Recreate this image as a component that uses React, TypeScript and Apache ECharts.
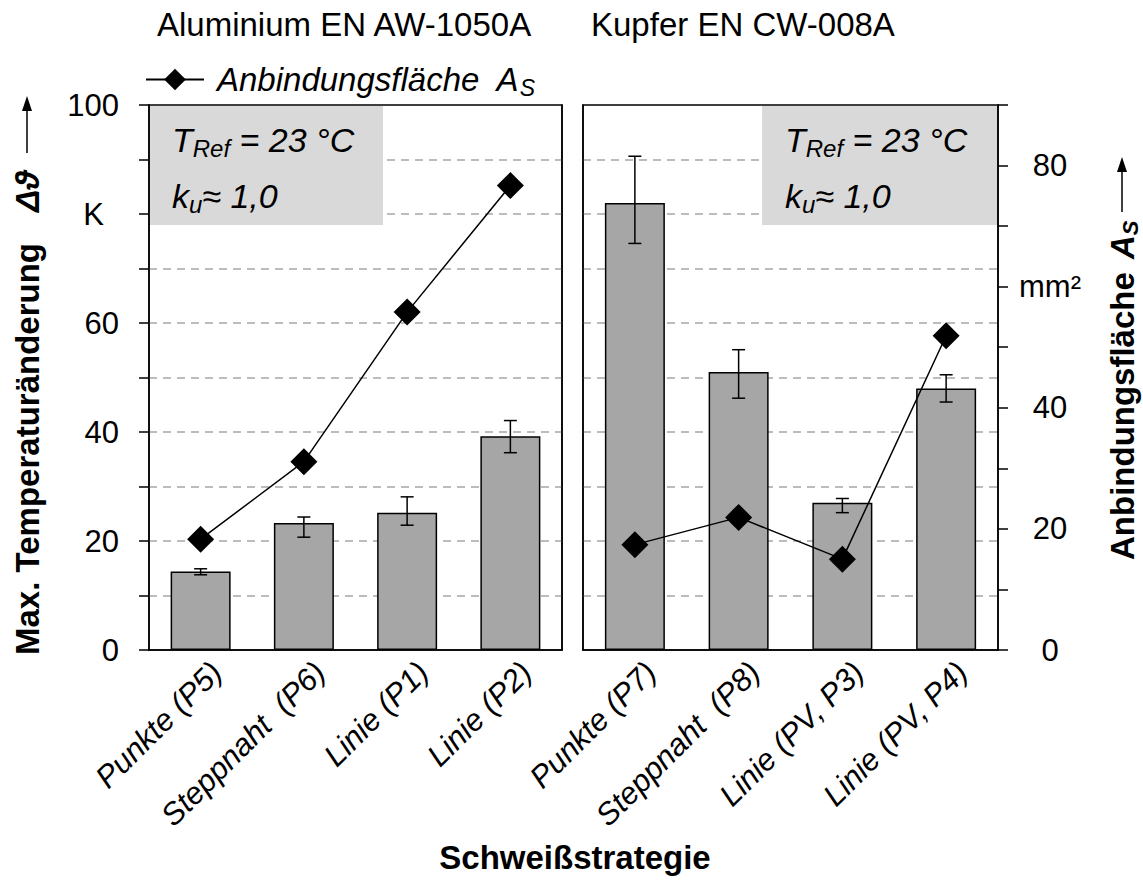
import React, { useEffect, useRef } from 'react';
import * as echarts from 'echarts';

// ---------- data ----------
const titleAl = 'Aluminium EN AW-1050A';
const titleCu = 'Kupfer EN CW-008A';
const catsAl = ['Punkte (P5)', 'Steppnaht  (P6)', 'Linie (P1)', 'Linie (P2)'];
const catsCu = ['Punkte (P7)', 'Steppnaht  (P8)', 'Linie (PV, P3)', 'Linie (PV, P4)'];
// max. temperature change (K), left axis
const tempAl = [14.4, 23.3, 25.2, 39.2];
const tempAlLow = [13.8, 20.7, 22.9, 36.2];
const tempAlHigh = [14.9, 24.4, 28.1, 42.1];
const tempCu = [82.0, 51.0, 27.0, 48.0];
const tempCuLow = [74.6, 46.2, 25.2, 45.5];
const tempCuHigh = [90.6, 55.1, 27.8, 50.5];
// bonding area (mm²), right axis
const areaAl = [18.3, 31.1, 55.8, 76.7];
const areaCu = [17.4, 21.9, 15.0, 51.9];
const leftAxisMax = 100;
const rightAxisMax = 90;

const FONT = '"Liberation Sans", Arial, sans-serif';

function errorSeries(xIdx: number, yIdx: number, low: number[], high: number[]) {
  return {
    type: 'custom',
    xAxisIndex: xIdx,
    yAxisIndex: yIdx,
    z: 4,
    silent: true,
    encode: { x: 0, y: [1, 2] },
    data: low.map((l, i) => [i, l, high[i]]),
    renderItem: (params: any, api: any) => {
      const i = api.value(0);
      const lo = api.coord([i, api.value(1)]);
      const hi = api.coord([i, api.value(2)]);
      const w = 6.5;
      const st = { stroke: '#000', lineWidth: 1.5 };
      return {
        type: 'group',
        children: [
          { type: 'line', shape: { x1: lo[0], y1: lo[1], x2: hi[0], y2: hi[1] }, style: st },
          { type: 'line', shape: { x1: lo[0] - w, y1: lo[1], x2: lo[0] + w, y2: lo[1] }, style: st },
          { type: 'line', shape: { x1: hi[0] - w, y1: hi[1], x2: hi[0] + w, y2: hi[1] }, style: st },
        ],
      };
    },
  };
}

export default function App() {
  const ref = useRef<HTMLDivElement>(null);
  useEffect(() => {
    if (!ref.current) return;
    const chart = echarts.init(ref.current, undefined, { renderer: 'svg' });
    const gridTop = 105;
    const gridH = 545;
    const g0 = { left: 149, width: 413 };
    const g1 = { left: 583, width: 415 };
    const labelShift = 16;
    const frame = { show: true, borderColor: '#000', borderWidth: 1.5, backgroundColor: 'transparent' };
    const splitDashed = {
      show: true,
      showMinLine: false,
      showMaxLine: false,
      lineStyle: { color: '#a6a6a6', type: [8, 6], width: 1.5 },
    };
    const xLabel = {
      rotate: 45,
      margin: 17,
      interval: 0,
      fontFamily: FONT,
      fontSize: 31,
      fontStyle: 'italic',
      color: '#000',
    };
    const rich = {
      i: { fontFamily: FONT, fontSize: 34, fontStyle: 'italic', color: '#000' },
      sub: { fontFamily: FONT, fontSize: 24, fontStyle: 'italic', color: '#000', padding: [16, 0, 0, 0] },
    };
    const boldStyle = { fontFamily: FONT, fontSize: 33, fontWeight: 'bold', fill: '#000', verticalAlign: 'middle', align: 'left' };
    const option: any = {
      animation: false,
      grid: [
        { ...g0, top: gridTop, height: gridH, ...frame },
        { ...g1, top: gridTop, height: gridH, ...frame },
        { left: g0.left + labelShift, width: g0.width, top: gridTop, height: gridH },
        { left: g1.left + labelShift, width: g1.width, top: gridTop, height: gridH },
      ],
      legend: {
        left: 140,
        top: 58,
        itemWidth: 58,
        itemHeight: 27,
        itemGap: 4,
        data: ['Anbindungsfläche'],
        formatter: () => '{t|Anbindungsfläche  A}{s|S}',
        textStyle: {
          padding: [0, 0, 0, 8],
          rich: {
            t: { fontFamily: FONT, fontSize: 33, fontStyle: 'italic', color: '#000' },
            s: { fontFamily: FONT, fontSize: 23, fontStyle: 'italic', color: '#000', padding: [16, 0, 0, 0] },
          },
        },
      },
      xAxis: [
        { type: 'category', gridIndex: 0, data: catsAl, axisLine: { lineStyle: { color: '#000', width: 1.5 } }, axisTick: { show: false }, axisLabel: { show: false } },
        { type: 'category', gridIndex: 1, data: catsCu, axisLine: { lineStyle: { color: '#000', width: 1.5 } }, axisTick: { show: false }, axisLabel: { show: false } },
        { type: 'category', gridIndex: 2, data: catsAl, axisLine: { show: false }, axisTick: { show: false }, axisLabel: xLabel },
        { type: 'category', gridIndex: 3, data: catsCu, axisLine: { show: false }, axisTick: { show: false }, axisLabel: xLabel },
      ],
      yAxis: [
        {
          type: 'value', gridIndex: 0, min: 0, max: leftAxisMax, interval: 10, position: 'left',
          axisLine: { show: true, lineStyle: { color: '#000', width: 1.5 } },
          axisTick: { show: true, inside: false, length: 10, lineStyle: { color: '#000', width: 1.5 } },
          axisLabel: {
            margin: 30, fontFamily: FONT, fontSize: 31, color: '#000',
            formatter: (v: number) => (v === 80 ? '{k|K}' : v % 20 === 0 ? String(v) : ''),
            rich: { k: { fontFamily: FONT, fontSize: 31, color: '#000', padding: [0, 15, 0, 0] } },
          },
          splitLine: splitDashed,
        },
        {
          type: 'value', gridIndex: 0, min: 0, max: rightAxisMax, interval: 10, position: 'right',
          axisLine: { show: true, lineStyle: { color: '#000', width: 1.5 } },
          axisTick: { show: false }, axisLabel: { show: false }, splitLine: { show: false },
        },
        {
          type: 'value', gridIndex: 1, min: 0, max: leftAxisMax, interval: 10, position: 'left',
          axisLine: { show: true, lineStyle: { color: '#000', width: 1.5 } },
          axisTick: { show: false }, axisLabel: { show: false }, splitLine: splitDashed,
        },
        {
          type: 'value', gridIndex: 1, min: 0, max: rightAxisMax, interval: 10, position: 'right',
          axisLine: { show: true, lineStyle: { color: '#000', width: 1.5 } },
          axisTick: { show: true, inside: false, length: 10, lineStyle: { color: '#000', width: 1.5 } },
          axisLabel: {
            margin: 52, align: 'center', fontFamily: FONT, fontSize: 31, color: '#000',
            formatter: (v: number) => (v === 60 ? 'mm²' : v % 20 === 0 ? String(v) : ''),
          },
          splitLine: { show: false },
        },
        { type: 'value', gridIndex: 2, show: false, min: 0, max: leftAxisMax },
        { type: 'value', gridIndex: 3, show: false, min: 0, max: leftAxisMax },
      ],
      series: [
        {
          type: 'bar', name: 'Temp Al', xAxisIndex: 0, yAxisIndex: 0, data: tempAl, barWidth: 60,
          itemStyle: { color: '#a6a6a6', borderColor: '#000', borderWidth: 1.5 }, z: 3,
        },
        {
          type: 'bar', name: 'Temp Cu', xAxisIndex: 1, yAxisIndex: 2, data: tempCu, barWidth: 60,
          itemStyle: { color: '#a6a6a6', borderColor: '#000', borderWidth: 1.5 }, z: 3,
        },
        errorSeries(0, 0, tempAlLow, tempAlHigh),
        errorSeries(1, 2, tempCuLow, tempCuHigh),
        {
          type: 'line', name: 'Anbindungsfläche', xAxisIndex: 0, yAxisIndex: 1, data: areaAl,
          symbol: 'diamond', symbolSize: 27, z: 5,
          lineStyle: { color: '#000', width: 1.5 }, itemStyle: { color: '#000' },
        },
        {
          type: 'line', name: 'Anbindungsfläche', xAxisIndex: 1, yAxisIndex: 3, data: areaCu,
          symbol: 'diamond', symbolSize: 27, z: 5,
          lineStyle: { color: '#000', width: 1.5 }, itemStyle: { color: '#000' },
        },
      ],
      graphic: [
        { type: 'rect', z: 1, shape: { x: 150, y: 106, width: 233, height: 119 }, style: { fill: '#d9d9d9' } },
        { type: 'rect', z: 1, shape: { x: 762, y: 106, width: 235, height: 119 }, style: { fill: '#d9d9d9' } },
        { type: 'text', z: 6, x: 172, y: 140, style: { text: '{i|T}{sub|Ref}{i| = 23 °C}', rich, verticalAlign: 'middle' } },
        { type: 'text', z: 6, x: 172, y: 196, style: { text: '{i|k}{sub|u}{i|≈ 1,0}', rich, verticalAlign: 'middle' } },
        { type: 'text', z: 6, x: 785, y: 140, style: { text: '{i|T}{sub|Ref}{i| = 23 °C}', rich, verticalAlign: 'middle' } },
        { type: 'text', z: 6, x: 785, y: 196, style: { text: '{i|k}{sub|u}{i|≈ 1,0}', rich, verticalAlign: 'middle' } },
        { type: 'text', x: 157, y: 24, style: { text: titleAl, fontFamily: FONT, fontSize: 33, fill: '#000', verticalAlign: 'middle' } },
        { type: 'text', x: 591, y: 24, style: { text: titleCu, fontFamily: FONT, fontSize: 33, fill: '#000', verticalAlign: 'middle' } },
        {
          type: 'text', x: 575, y: 857,
          style: { text: 'Schweißstrategie', fontFamily: FONT, fontSize: 33, fontWeight: 'bold', fill: '#000', align: 'center', verticalAlign: 'middle' },
        },
        // left axis name
        {
          type: 'text', x: 27, y: 655, rotation: Math.PI / 2,
          style: { text: 'Max. Temperaturänderung', ...boldStyle },
        },
        {
          type: 'text', x: 27, y: 212, rotation: Math.PI / 2,
          style: { text: 'Δϑ', ...boldStyle, fontStyle: 'italic' },
        },
        { type: 'line', shape: { x1: 27, y1: 153, x2: 27, y2: 108 }, style: { stroke: '#000', lineWidth: 1.5 } },
        { type: 'polygon', shape: { points: [[27, 96], [22, 111], [32, 111]] }, style: { fill: '#000' } },
        // right axis name
        {
          type: 'text', x: 1122, y: 560, rotation: Math.PI / 2,
          style: { text: 'Anbindungsfläche', ...boldStyle },
        },
        {
          type: 'text', x: 1122, y: 259, rotation: Math.PI / 2,
          style: {
            text: '{bi|A}{bs|S}', verticalAlign: 'middle', align: 'left',
            rich: {
              bi: { fontFamily: FONT, fontSize: 33, fontWeight: 'bold', fontStyle: 'italic', fill: '#000' },
              bs: { fontFamily: FONT, fontSize: 22, fontWeight: 'bold', fontStyle: 'italic', fill: '#000', padding: [16, 0, 0, 0] },
            },
          },
        },
        { type: 'line', shape: { x1: 1122, y1: 212, x2: 1122, y2: 169 }, style: { stroke: '#000', lineWidth: 1.5 } },
        { type: 'polygon', shape: { points: [[1122, 157], [1117, 172], [1127, 172]] }, style: { fill: '#000' } },
      ],
    };
    chart.setOption(option);
    return () => chart.dispose();
  }, []);
  return <div ref={ref} style={{ width: 1143, height: 888, position: 'absolute', left: 0, top: 0, background: '#fff' }} />;
}
